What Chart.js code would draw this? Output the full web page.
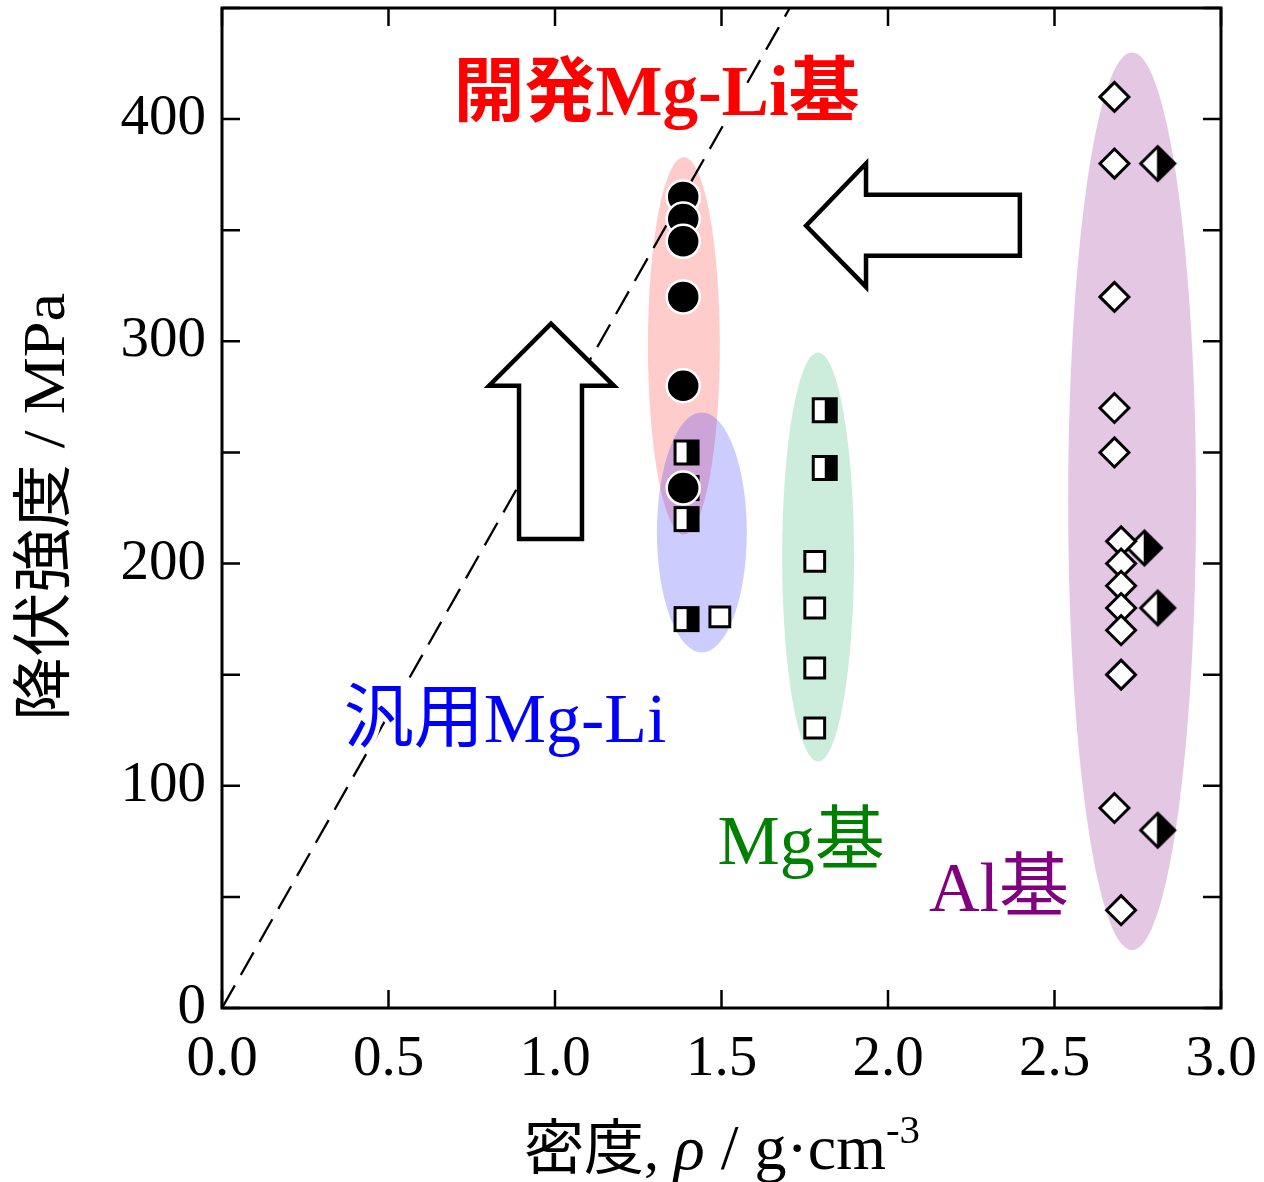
<!DOCTYPE html>
<html>
<head>
<meta charset="utf-8">
<script src="https://cdn.jsdelivr.net/npm/chart.js@4.4.1/dist/chart.umd.min.js"></script>
<style>
  html, body { margin: 0; padding: 0; background: #fff; }
  #wrap { width: 1264px; height: 1182px; }
</style>
</head>
<body>
<div id="wrap"><canvas id="c" width="1264" height="1182"></canvas></div>
<script>
// ---- Density (g/cm^3) vs. yield strength (MPa) ----

// Developed Mg-Li alloys (filled circles)
const devMgLiDensity  = [1.385, 1.385, 1.385, 1.385, 1.385, 1.385];
const devMgLiStrength = [365, 355, 345, 320, 280, 234];

// Conventional Mg-Li alloys
const genMgLiHalfDensity  = [1.395, 1.395, 1.395, 1.395];
const genMgLiHalfStrength = [250, 234, 220, 175];
const genMgLiOpenDensity  = [1.495];
const genMgLiOpenStrength = [176];

// Mg alloys
const mgHalfDensity  = [1.81, 1.81];
const mgHalfStrength = [269, 243];
const mgOpenDensity  = [1.78, 1.78, 1.78, 1.78];
const mgOpenStrength = [201, 180, 153, 126];

// Al alloys
const alOpenDensity  = [2.68, 2.68, 2.68, 2.68, 2.68, 2.70, 2.70, 2.70, 2.70, 2.70, 2.70, 2.68, 2.70];
const alOpenStrength = [410, 380, 320, 270, 250, 210, 200, 190, 180, 170, 150, 90, 44];
const alHalfDensity  = [2.81, 2.77, 2.81, 2.81];
const alHalfStrength = [380, 207, 180, 80];

// Constant specific-strength reference line
const refLineDensity  = [0, 1.705];
const refLineStrength = [0, 450];

// Group regions (centre and half extents in axis units)
const regionLabels   = ['開発Mg-Li基', '汎用Mg-Li', 'Mg基', 'Al基'];
const regionCenterX  = [1.387, 1.441, 1.790, 2.733];
const regionCenterY  = [298, 214, 203, 228];
const regionHalfX    = [0.108, 0.135, 0.108, 0.192];
const regionHalfY    = [85, 54, 92, 202];

// Axis tick labels
const xTickValues = [0, 0.5, 1.0, 1.5, 2.0, 2.5, 3.0];
const yTickValues = [0, 100, 200, 300, 400];
const yTickMarks  = [0, 50, 100, 150, 200, 250, 300, 350, 400, 450];

const toPts = (xs, ys) => xs.map((x, i) => ({ x: x, y: ys[i] }));

const SERIF = '"Liberation Serif", "Times New Roman", serif';
const MIXED = '"Liberation Serif", "Noto Sans CJK JP", serif';

// marker images
function halfSquare(size, lw) {
  const s = Math.ceil(size + lw + 2);
  const c = document.createElement('canvas');
  c.width = c.height = s;
  const g = c.getContext('2d');
  const o = (s - size) / 2;
  g.fillStyle = '#fff';
  g.fillRect(o, o, size, size);
  g.fillStyle = '#000';
  g.fillRect(o + size / 2, o, size / 2, size);
  g.lineWidth = lw;
  g.strokeStyle = '#000';
  g.strokeRect(o, o, size, size);
  return c;
}
function halfDiamond(r, lw) {
  const s = Math.ceil(2 * r + lw + 4);
  const c = document.createElement('canvas');
  c.width = c.height = s;
  const g = c.getContext('2d');
  const m = s / 2;
  const path = () => {
    g.beginPath();
    g.moveTo(m, m - r); g.lineTo(m + r, m); g.lineTo(m, m + r); g.lineTo(m - r, m); g.closePath();
  };
  path(); g.fillStyle = '#fff'; g.fill();
  g.beginPath();
  g.moveTo(m, m - r); g.lineTo(m + r, m); g.lineTo(m, m + r); g.closePath();
  g.fillStyle = '#000'; g.fill();
  path(); g.lineJoin = 'miter'; g.lineWidth = lw; g.strokeStyle = '#000'; g.stroke();
  g.beginPath(); g.moveTo(m, m - r); g.lineTo(m, m + r); g.lineWidth = 1.5; g.stroke();
  return c;
}
const halfSq = halfSquare(23, 3);
const halfDia = halfDiamond(17, 3);

// region ellipses under the data
const regionPlugin = {
  id: 'regions',
  beforeDatasetsDraw(chart) {
    const { ctx, scales: { x, y } } = chart;
    const fills = ['rgba(255,0,0,0.2)', 'rgba(0,0,255,0.2)', 'rgba(0,165,80,0.2)', 'rgba(128,0,128,0.22)'];
    ctx.save();
    regionCenterX.forEach((cx, i) => {
      const px = x.getPixelForValue(cx);
      const py = y.getPixelForValue(regionCenterY[i]);
      const rx = x.getPixelForValue(cx + regionHalfX[i]) - px;
      const ry = py - y.getPixelForValue(regionCenterY[i] + regionHalfY[i]);
      ctx.beginPath();
      ctx.ellipse(px, py, rx, ry, 0, 0, Math.PI * 2);
      ctx.fillStyle = fills[i];
      ctx.fill();
    });
    ctx.restore();
  }
};

// block arrows, frame, inward ticks, labels and axis titles
const upArrow = [[0.892, 211], [0.892, 280], [0.802, 280], [0.988, 308], [1.177, 280], [1.081, 280], [1.081, 211]];
const leftArrow = [[2.396, 366], [1.934, 366], [1.934, 380], [1.754, 352], [1.934, 324.5], [1.934, 338.5], [2.396, 338.5]];
const labelAnchorX = [1.305, 0.850, 1.739, 2.333];
const labelAnchorY = [410, 128, 73, 52];

const decorPlugin = {
  id: 'decor',
  afterDatasetsDraw(chart) {
    const { ctx, scales: { x, y } } = chart;
    ctx.save();
    [upArrow, leftArrow].forEach(poly => {
      ctx.beginPath();
      poly.forEach((p, i) => {
        const px = x.getPixelForValue(p[0]), py = y.getPixelForValue(p[1]);
        if (i === 0) ctx.moveTo(px, py); else ctx.lineTo(px, py);
      });
      ctx.closePath();
      ctx.fillStyle = '#fff';
      ctx.fill();
      ctx.lineWidth = 4.5;
      ctx.lineJoin = 'miter';
      ctx.strokeStyle = '#000';
      ctx.stroke();
    });
    const colors = ['#ff0000', '#0000ff', '#008000', '#800080'];
    const fonts = ['bold 71px ', '70px ', '70px ', '70px '];
    regionLabels.forEach((t, i) => {
      ctx.font = fonts[i] + MIXED;
      ctx.textAlign = 'center';
      ctx.textBaseline = 'middle';
      const px = x.getPixelForValue(labelAnchorX[i]);
      const py = y.getPixelForValue(labelAnchorY[i]);
      ctx.lineWidth = 9;
      ctx.lineJoin = 'round';
      ctx.strokeStyle = '#fff';
      ctx.strokeText(t, px, py);
      ctx.fillStyle = colors[i];
      ctx.fillText(t, px, py);
    });
    ctx.restore();
  },
  afterDraw(chart) {
    const { ctx, chartArea: a, scales: { x, y } } = chart;
    ctx.save();
    ctx.strokeStyle = '#000';
    ctx.lineWidth = 2.5;
    const tl = 18;
    x.ticks.forEach(t => {
      const px = x.getPixelForValue(t.value);
      ctx.beginPath();
      ctx.moveTo(px, a.bottom); ctx.lineTo(px, a.bottom - tl);
      ctx.moveTo(px, a.top); ctx.lineTo(px, a.top + tl);
      ctx.stroke();
    });
    y.ticks.forEach(t => {
      const py = y.getPixelForValue(t.value);
      ctx.beginPath();
      ctx.moveTo(a.left, py); ctx.lineTo(a.left + tl, py);
      ctx.moveTo(a.right, py); ctx.lineTo(a.right - tl, py);
      ctx.stroke();
    });
    ctx.lineWidth = 3;
    ctx.strokeRect(a.left, a.top, a.right - a.left, a.bottom - a.top);

    // y-axis title
    ctx.fillStyle = '#000';
    ctx.save();
    ctx.translate(48, 507);
    ctx.rotate(-Math.PI / 2);
    ctx.scale(1.07, 1);
    ctx.font = '60px ' + MIXED;
    ctx.textAlign = 'center';
    ctx.textBaseline = 'middle';
    ctx.fillText('降伏強度 / MPa', 0, 0);
    ctx.restore();

    // x-axis title: 密度, ρ / g·cm-3
    const parts = [
      { t: '密度, ', f: '60px ' + MIXED, dy: 0 },
      { t: 'ρ', f: 'italic 64px ' + SERIF, dy: 0 },
      { t: ' / g·cm', f: '64px ' + SERIF, dy: 0 },
      { t: '-3', f: '41px ' + SERIF, dy: -26 }
    ];
    let total = 0;
    parts.forEach(p => { ctx.font = p.f; p.w = ctx.measureText(p.t).width; total += p.w; });
    let cx = 722 - total / 2;
    const base = 1169;
    ctx.textAlign = 'left';
    ctx.textBaseline = 'alphabetic';
    parts.forEach(p => {
      ctx.font = p.f;
      ctx.fillText(p.t, cx, base + p.dy);
      cx += p.w;
    });
    ctx.restore();
  }
};

// keep the plot frame fixed: no extra room for overhanging tick labels
const noOverhang = s => { s.paddingTop = 0; s.paddingBottom = 0; s.paddingLeft = 0; s.paddingRight = 0; };

new Chart(document.getElementById('c'), {
  type: 'scatter',
  data: {
    datasets: [
      {
        type: 'line', data: toPts(refLineDensity, refLineStrength),
        borderColor: '#000', borderWidth: 2.3, borderDash: [26, 12],
        pointRadius: 0, fill: false, order: 10
      },
      { data: toPts(genMgLiHalfDensity, genMgLiHalfStrength), pointStyle: halfSq, order: 5 },
      {
        data: toPts(genMgLiOpenDensity, genMgLiOpenStrength),
        pointStyle: 'rect', pointRadius: 14, backgroundColor: '#fff', borderColor: '#000', borderWidth: 3, order: 4
      },
      { data: toPts(mgHalfDensity, mgHalfStrength), pointStyle: halfSq, order: 5 },
      {
        data: toPts(mgOpenDensity, mgOpenStrength),
        pointStyle: 'rect', pointRadius: 14, backgroundColor: '#fff', borderColor: '#000', borderWidth: 3, order: 4
      },
      { data: toPts(alHalfDensity, alHalfStrength), pointStyle: halfDia, order: 5 },
      {
        data: toPts(alOpenDensity, alOpenStrength),
        pointStyle: 'rectRot', pointRadius: 14.5, backgroundColor: '#fff', borderColor: '#000', borderWidth: 3, order: 3
      },
      {
        data: toPts(devMgLiDensity, devMgLiStrength),
        pointStyle: 'circle', pointRadius: 16.5, backgroundColor: '#000', borderColor: '#fff', borderWidth: 2.5, order: 1
      }
    ]
  },
  options: {
    responsive: false,
    animation: false,
    devicePixelRatio: 1,
    layout: { autoPadding: false, padding: { left: 0, right: 43, top: 8, bottom: 0 } },
    plugins: { legend: { display: false }, tooltip: { enabled: false } },
    scales: {
      x: {
        type: 'linear', min: 0, max: 3,
        grid: { display: false, drawTicks: false },
        border: { display: false },
        afterBuildTicks: s => { s.ticks = xTickValues.map(v => ({ value: v })); },
        ticks: {
          callback: v => Number(v).toFixed(1),
          font: { family: SERIF, size: 57 }, color: '#000', padding: 18,
          maxRotation: 0, autoSkip: false
        },
        afterFit: s => { s.height = 174; noOverhang(s); }
      },
      y: {
        type: 'linear', min: 0, max: 450,
        grid: { display: false, drawTicks: false },
        border: { display: false },
        afterBuildTicks: s => { s.ticks = yTickMarks.map(v => ({ value: v })); },
        ticks: {
          callback: v => (yTickValues.includes(v) ? String(v) : ''),
          font: { family: SERIF, size: 57 }, color: '#000', padding: 16,
          autoSkip: false
        },
        afterFit: s => { s.width = 222; noOverhang(s); }
      }
    }
  },
  plugins: [regionPlugin, decorPlugin]
});
</script>
</body>
</html>
